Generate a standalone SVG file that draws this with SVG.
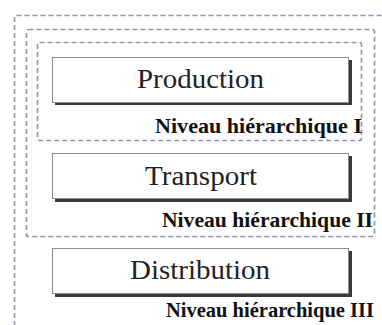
<svg xmlns="http://www.w3.org/2000/svg" width="382" height="325" viewBox="0 0 382 325">
<style>
.lvl{fill:none;stroke:#8e9aac;stroke-width:1.7;stroke-dasharray:5 3}
.box{fill:#fff;stroke:#8c8c8c;stroke-width:1}
.sh{fill:#3a3a3a}
.t{font-family:"Liberation Serif","Times New Roman",serif;font-size:27px;fill:#222}
.lab{font-family:"Liberation Serif","Times New Roman",serif;font-size:22px;font-weight:bold;fill:#111}
</style>
<rect width="382" height="325" fill="#fff"/>
<g id="levels">
<rect id="level3" class="lvl" x="14.5" y="15.5" width="380" height="330" rx="2"/>
<rect id="level2" class="lvl" x="26.5" y="29.5" width="348" height="207" rx="2"/>
<rect id="level1" class="lvl" x="37.5" y="42.5" width="324" height="98" rx="2"/>
</g>
<g id="production">
<rect class="sh" x="55" y="60" width="297" height="45"/>
<rect class="box" x="52.5" y="57.5" width="296" height="45"/>
<text class="t" x="137" y="88" textLength="127" lengthAdjust="spacingAndGlyphs">Production</text>
</g>
<text class="lab" x="155" y="133" textLength="207" lengthAdjust="spacingAndGlyphs">Niveau hiérarchique I</text>
<g id="transport">
<rect class="sh" x="55" y="156" width="297" height="46"/>
<rect class="box" x="52.5" y="153.5" width="296" height="45"/>
<text class="t" x="145" y="185" textLength="112" lengthAdjust="spacingAndGlyphs">Transport</text>
</g>
<text class="lab" x="162" y="227" textLength="211" lengthAdjust="spacingAndGlyphs">Niveau hiérarchique II</text>
<g id="distribution">
<rect class="sh" x="55" y="251" width="297" height="46"/>
<rect class="box" x="52.5" y="248.5" width="296" height="45"/>
<text class="t" x="130" y="279" textLength="140" lengthAdjust="spacingAndGlyphs">Distribution</text>
</g>
<text class="lab" x="166" y="317" font-size="21" textLength="208" lengthAdjust="spacingAndGlyphs">Niveau hiérarchique III</text>
<g id="connectors"/>
</svg>
